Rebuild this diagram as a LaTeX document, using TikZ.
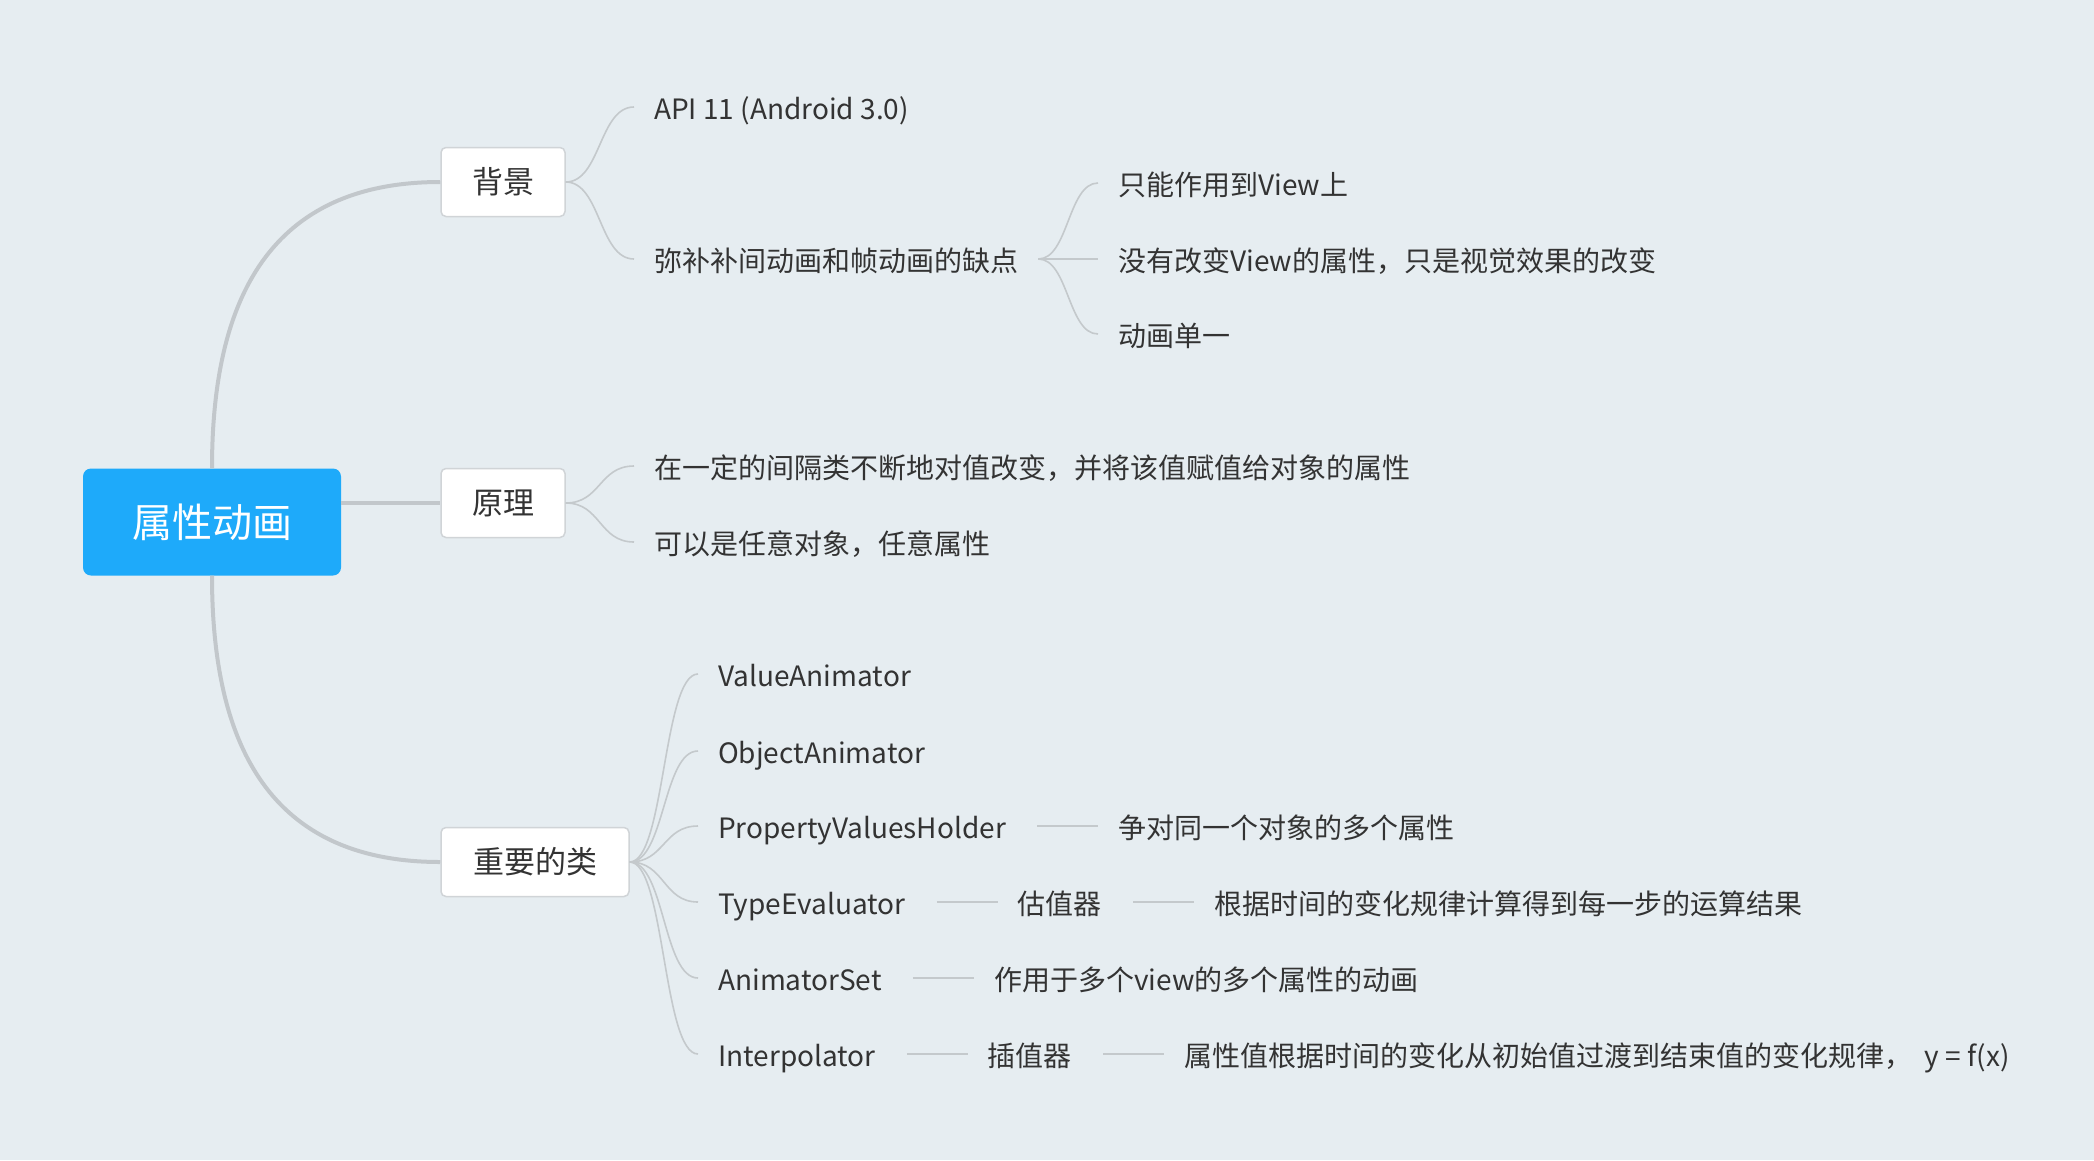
\documentclass[tikz,border=0pt]{standalone}
\usepackage{fontspec}
\setmainfont{Noto Sans CJK SC}
\definecolor{bg}{RGB}{230,237,241}
\definecolor{rootblue}{RGB}{30,170,250}
\definecolor{txt}{RGB}{51,51,51}
\definecolor{thickc}{RGB}{194,199,203}
\definecolor{thinc}{RGB}{196,201,204}
\definecolor{boxline}{RGB}{208,212,215}
\begin{document}
\begin{tikzpicture}[x=1pt,y=-1pt,
  leaf/.style={anchor=west, inner sep=0pt, text height=27pt, text depth=2pt, text=txt, font=\fontsize{28}{34}\selectfont},
  topic/.style={draw=boxline, line width=1.5pt, fill=white, rounded corners=5pt, minimum height=69pt, inner sep=0pt, text=txt, font=\fontsize{31}{37}\selectfont},
  rootbox/.style={fill=rootblue, rounded corners=8pt, minimum width=258pt, minimum height=107pt, inner sep=0pt, text=white, font=\fontsize{40}{48}\selectfont},
  mainline/.style={draw=thickc, line width=4pt},
  subline/.style={draw=thinc, line width=1.6pt},
  linkline/.style={draw=thinc, line width=2pt}]
\fill[bg] (0,0) rectangle (2094,1160);

% main nodes
\node[rootbox] (root) at (212,522) {属性动画};
\node[topic, minimum width=124pt] (bj) at (503,182) {背景};
\node[topic, minimum width=124pt] (yl) at (503,503) {原理};
\node[topic, minimum width=188pt] (zy) at (535,862) {重要的类};

% main connectors
\draw[mainline] (root.north) .. controls +(0,-170) and +(-170,0) .. (bj.west);
\draw[mainline] (root.east |- yl.west) -- (yl.west);
\draw[mainline] (root.south) .. controls +(0,170) and +(-170,0) .. (zy.west);

% 背景 children
\node[leaf] (api) at (654,107) {API 11 (Android 3.0)};
\node[leaf] (mb) at (654,259) {弥补补间动画和帧动画的缺点};
\node[leaf] (s1) at (1118,183) {只能作用到View上};
\node[leaf] (s2) at (1118,259) {没有改变View的属性，只是视觉效果的改变};
\node[leaf] (s3) at (1118,334) {动画单一};
\draw[subline] (bj.east) .. controls +(35,0) and +(-35,0) .. ([xshift=-20pt]api.west);
\draw[subline] (bj.east) .. controls +(35,0) and +(-35,0) .. ([xshift=-20pt]mb.west);
\coordinate (mbr) at ([xshift=20pt]mb.east);
\draw[subline] (mbr) .. controls +(30,0) and +(-30,0) .. ([xshift=-20pt]s1.west);
\draw[subline] (mbr) -- ([xshift=-20pt]s2.west);
\draw[subline] (mbr) .. controls +(30,0) and +(-30,0) .. ([xshift=-20pt]s3.west);

% 原理 children
\node[leaf] (p1) at (654,466) {在一定的间隔类不断地对值改变，并将该值赋值给对象的属性};
\node[leaf] (p2) at (654,542) {可以是任意对象，任意属性};
\draw[subline] (yl.east) .. controls +(35,0) and +(-35,0) .. ([xshift=-20pt]p1.west);
\draw[subline] (yl.east) .. controls +(35,0) and +(-35,0) .. ([xshift=-20pt]p2.west);

% 重要的类 children
\node[leaf] (c1) at (718,674) {ValueAnimator};
\node[leaf] (c2) at (718,751) {ObjectAnimator};
\node[leaf] (c3) at (718,826) {PropertyValuesHolder};
\node[leaf] (c4) at (718,902) {TypeEvaluator};
\node[leaf] (c5) at (718,978) {AnimatorSet};
\node[leaf] (c6) at (718,1054) {Interpolator};
\foreach \c in {c1,c2,c3,c4,c5,c6}
  \draw[subline] (zy.east) .. controls +(35,0) and +(-35,0) .. ([xshift=-20pt]\c.west);

\node[leaf] (d3) at ([xshift=112pt]c3.east) {争对同一个对象的多个属性};
\node[leaf] (e4) at ([xshift=112pt]c4.east) {估值器};
\node[leaf] (f4) at ([xshift=112pt]e4.east) {根据时间的变化规律计算得到每一步的运算结果};
\node[leaf] (d5) at ([xshift=112pt]c5.east) {作用于多个view的多个属性的动画};
\node[leaf] (e6) at ([xshift=112pt]c6.east) {插值器};
\node[leaf] (f6) at ([xshift=112pt]e6.east) {属性值根据时间的变化从初始值过渡到结束值的变化规律，\ \ y = f(x)};

\draw[linkline] ([xshift=31pt]c3.east) -- ([xshift=-20pt]d3.west);
\draw[linkline] ([xshift=31pt]c4.east) -- ([xshift=-20pt]e4.west);
\draw[linkline] ([xshift=31pt]e4.east) -- ([xshift=-20pt]f4.west);
\draw[linkline] ([xshift=31pt]c5.east) -- ([xshift=-20pt]d5.west);
\draw[linkline] ([xshift=31pt]c6.east) -- ([xshift=-20pt]e6.west);
\draw[linkline] ([xshift=31pt]e6.east) -- ([xshift=-20pt]f6.west);
\end{tikzpicture}
\end{document}
